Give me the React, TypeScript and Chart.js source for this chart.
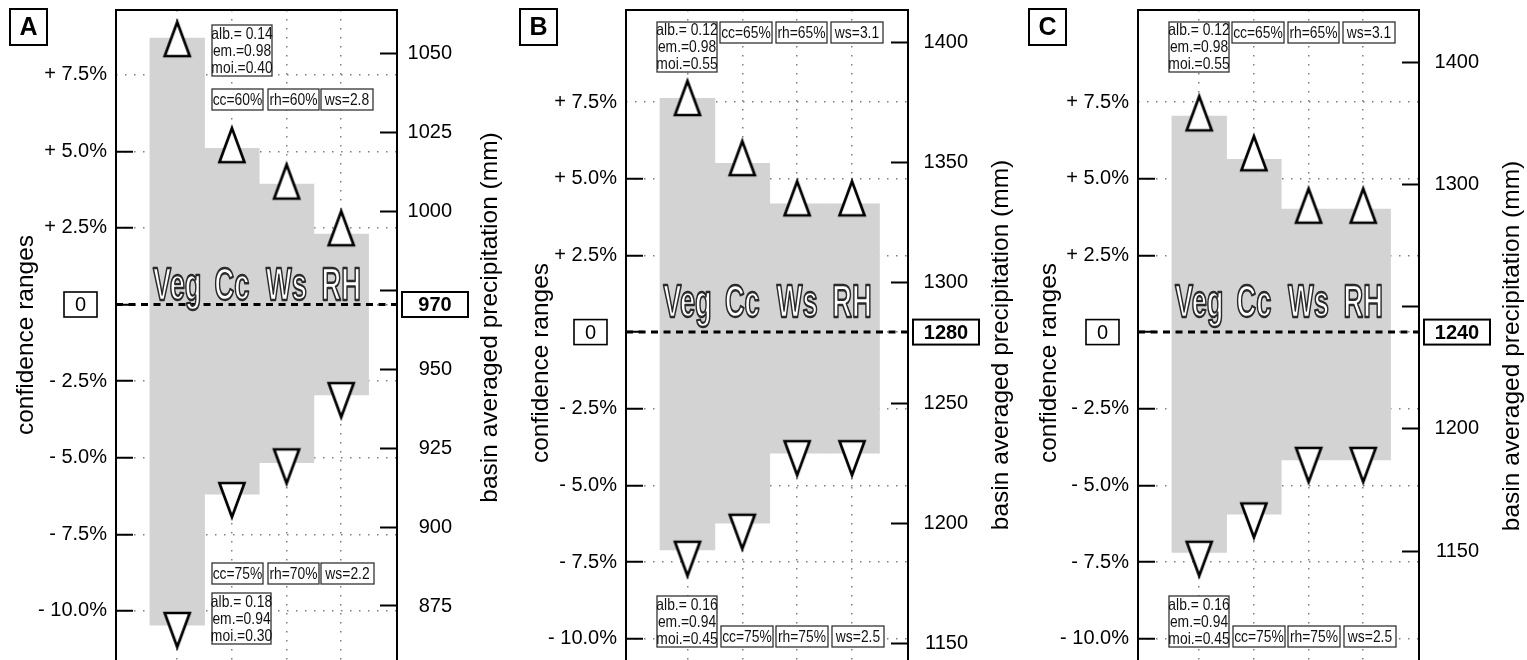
import React, { useEffect, useRef } from 'react';
import { Chart, registerables } from 'chart.js';

Chart.register(...registerables);

const FONT = '"Liberation Sans", Arial, Helvetica, sans-serif';

const categories = ['Veg', 'Cc', 'Ws', 'RH'];

const leftTickValues = [-10, -7.5, -5, -2.5, 0, 2.5, 5, 7.5];
const leftTickLabels = ['- 10.0%', '- 7.5%', '- 5.0%', '- 2.5%', '', '+ 2.5%', '+ 5.0%', '+ 7.5%'];

// ---- Panel A ----
const upperA = [8.69, 5.1, 3.93, 2.3];
const lowerA = [-10.46, -6.19, -5.16, -2.95];
const upMarkA = [8.66, 5.2, 4.01, 2.49];
const downMarkA = [-10.62, -6.38, -5.28, -3.12];
const rightTicksA = [875, 900, 925, 950, 975, 1000, 1025, 1050];
const rightLabelsA = ['875', '900', '925', '950', '', '1000', '1025', '1050'];
const baseA = '970';
const notesA = [
  ['alb.= 0.14', 'em.=0.98', 'moi.=0.40'],
  ['cc=60%'], ['rh=60%'], ['ws=2.8'],
  ['cc=75%'], ['rh=70%'], ['ws=2.2'],
  ['alb.= 0.18', 'em.=0.94', 'moi.=0.30'],
];

// ---- Panel B ----
const upperB = [7.62, 5.5, 4.18, 4.18];
const lowerB = [-7.1, -6.23, -3.95, -3.95];
const upMarkB = [7.63, 5.67, 4.36, 4.36];
const downMarkB = [-7.39, -6.51, -4.11, -4.11];
const rightTicksB = [1150, 1200, 1250, 1300, 1350, 1400];
const rightLabelsB = ['1150', '1200', '1250', '1300', '1350', '1400'];
const baseB = '1280';
const notesB = [
  ['alb.= 0.12', 'em.=0.98', 'moi.=0.55'],
  ['cc=65%'], ['rh=65%'], ['ws=3.1'],
  ['alb.= 0.16', 'em.=0.94', 'moi.=0.45'],
  ['cc=75%'], ['rh=75%'], ['ws=2.5'],
];

// ---- Panel C ----
const upperC = [7.04, 5.63, 4.01, 4.01];
const lowerC = [-7.18, -5.94, -4.17, -4.17];
const upMarkC = [7.13, 5.83, 4.12, 4.12];
const downMarkC = [-7.39, -6.14, -4.33, -4.33];
const rightTicksC = [1150, 1200, 1250, 1300, 1350];
const rightLabelsC = ['1150', '1200', '', '1300', '1400'];
const baseC = '1240';
const notesC = [
  ['alb.= 0.12', 'em.=0.98', 'moi.=0.55'],
  ['cc=65%'], ['rh=65%'], ['ws=3.1'],
  ['alb.= 0.16', 'em.=0.94', 'moi.=0.45'],
  ['cc=75%'], ['rh=75%'], ['ws=2.5'],
];

// note box layout (relative to plot frame top-left)
const notePosA = [
  { x: 96, y: 15, w: 60, h: 51 },
  { x: 96, y: 79, w: 51, h: 21 },
  { x: 152, y: 79, w: 51, h: 21 },
  { x: 205, y: 79, w: 52, h: 21 },
  { x: 96, y: 553, w: 51, h: 21 },
  { x: 152, y: 553, w: 51, h: 21 },
  { x: 205, y: 553, w: 53, h: 21 },
  { x: 96, y: 583, w: 59, h: 51 },
];
const notePosB = [
  { x: 31, y: 12, w: 60, h: 50 },
  { x: 94, y: 12, w: 52, h: 21 },
  { x: 150, y: 12, w: 51, h: 21 },
  { x: 205, y: 12, w: 52, h: 21 },
  { x: 31, y: 586, w: 60, h: 51 },
  { x: 95, y: 616, w: 52, h: 21 },
  { x: 150, y: 616, w: 52, h: 21 },
  { x: 206, y: 616, w: 52, h: 21 },
];

type Pos = { x: number; y: number; w: number; h: number };

interface PanelCfg {
  letter: string;
  left: number;
  width: number;
  leftW: number;
  rightW: number;
  padRight: number;
  yMin: number;
  yMax: number;
  rMin: number;
  rMax: number;
  upper: number[];
  lower: number[];
  upMark: number[];
  downMark: number[];
  rightTicks: number[];
  rightLabels: string[];
  base: string;
  notes: string[][];
  notePos: Pos[];
  labelLift: number;
  letterDx: number;
  leftTitleDx: number;
  leftTitleY: number;
  rightTitleY: number;
}

const panels: PanelCfg[] = [
  {
    letter: 'A', left: 0, width: 510, leftW: 116, rightW: 55, padRight: 58,
    yMin: -11.6, yMax: 9.61, rMin: 857.9, rMax: 1063.7,
    upper: upperA, lower: lowerA, upMark: upMarkA, downMark: downMarkA,
    rightTicks: rightTicksA, rightLabels: rightLabelsA, base: baseA,
    notes: notesA, notePos: notePosA, labelLift: 4.5, letterDx: -106,
    leftTitleDx: -83, leftTitleY: 335, rightTitleY: 317.5,
  },
  {
    letter: 'B', left: 510, width: 510, leftW: 116, rightW: 60, padRight: 52,
    yMin: -10.69, yMax: 10.5, rMin: 1143.05, rMax: 1413.6,
    upper: upperB, lower: lowerB, upMark: upMarkB, downMark: downMarkB,
    rightTicks: rightTicksB, rightLabels: rightLabelsB, base: baseB,
    notes: notesB, notePos: notePosB, labelLift: 15, letterDx: -106,
    leftTitleDx: -78, leftTitleY: 363, rightTitleY: 345,
  },
  {
    letter: 'C', left: 1017, width: 510, leftW: 121, rightW: 60, padRight: 48,
    yMin: -10.69, yMax: 10.5, rMin: 1105.4, rMax: 1371.4,
    upper: upperC, lower: lowerC, upMark: upMarkC, downMark: downMarkC,
    rightTicks: rightTicksC, rightLabels: rightLabelsC, base: baseC,
    notes: notesC, notePos: notePosB, labelLift: 15, letterDx: -109,
    leftTitleDx: -82, leftTitleY: 363, rightTitleY: 346,
  },
];

function makeTriangle(down: boolean): HTMLCanvasElement {
  const c = document.createElement('canvas');
  c.width = 32;
  c.height = 46;
  const g = c.getContext('2d')!;
  g.lineWidth = 2.7;
  g.lineJoin = 'miter';
  g.strokeStyle = '#000';
  g.fillStyle = '#fff';
  g.beginPath();
  if (!down) {
    g.moveTo(16, 6);
    g.lineTo(28.5, 40);
    g.lineTo(3.5, 40);
  } else {
    g.moveTo(16, 40);
    g.lineTo(28.5, 6);
    g.lineTo(3.5, 6);
  }
  g.closePath();
  g.fill();
  g.stroke();
  return c;
}

function decorPlugin(cfg: PanelCfg) {
  return {
    id: 'decor' + cfg.letter,
    afterDatasetsDraw(chart: any) {
      const { ctx, chartArea: a, scales } = chart;
      const y0 = scales.y.getPixelForValue(0);
      ctx.save();
      ctx.strokeStyle = '#000';
      ctx.lineWidth = 3;
      ctx.setLineDash([7, 5.5]);
      ctx.beginPath();
      ctx.moveTo(a.left, y0);
      ctx.lineTo(a.right, y0);
      ctx.stroke();
      ctx.setLineDash([]);
      ctx.font = `bold 47px ${FONT}`;
      ctx.textAlign = 'center';
      ctx.textBaseline = 'alphabetic';
      ctx.lineJoin = 'round';
      categories.forEach((c, i) => {
        const x = scales.x.getPixelForValue(i);
        ctx.save();
        ctx.translate(x, y0 - cfg.labelLift);
        ctx.scale(0.58, 1);
        ctx.fillStyle = '#fff';
        ctx.fillText(c, 0, 0);
        ctx.lineWidth = 2.4;
        ctx.strokeStyle = '#2a2a2a';
        ctx.strokeText(c, 0, 0);
        ctx.restore();
      });
      ctx.restore();
    },
    afterDraw(chart: any) {
      const { ctx, chartArea: a, scales } = chart;
      const y0 = scales.y.getPixelForValue(0);
      ctx.save();
      // frame (left, top, right)
      ctx.strokeStyle = '#000';
      ctx.lineWidth = 2;
      ctx.beginPath();
      ctx.moveTo(a.left, a.bottom + 2);
      ctx.lineTo(a.left, a.top);
      ctx.lineTo(a.right, a.top);
      ctx.lineTo(a.right, a.bottom + 2);
      ctx.stroke();

      // panel letter
      const lx = a.left + cfg.letterDx;
      ctx.fillStyle = '#fff';
      ctx.fillRect(lx, 9, 37, 36);
      ctx.strokeRect(lx, 9, 37, 36);
      ctx.fillStyle = '#000';
      ctx.font = `bold 25px ${FONT}`;
      ctx.textAlign = 'center';
      ctx.textBaseline = 'middle';
      ctx.fillText(cfg.letter, lx + 18.5, 28);

      // zero box left
      ctx.lineWidth = 1.6;
      ctx.fillStyle = '#fff';
      ctx.fillRect(a.left - 52, y0 - 12.5, 33, 25);
      ctx.strokeRect(a.left - 52, y0 - 12.5, 33, 25);
      ctx.fillStyle = '#000';
      ctx.font = `20px ${FONT}`;
      ctx.fillText('0', a.left - 35.5, y0 + 1);

      // base value box right
      ctx.lineWidth = 2;
      ctx.fillStyle = '#fff';
      ctx.fillRect(a.right + 5, y0 - 12.5, 66, 25);
      ctx.strokeRect(a.right + 5, y0 - 12.5, 66, 25);
      ctx.fillStyle = '#000';
      ctx.font = `bold 20px ${FONT}`;
      ctx.fillText(cfg.base, a.right + 38, y0 + 1);

      // notes
      cfg.notes.forEach((lines, i) => {
        const p = cfg.notePos[i];
        const bx = a.left + p.x;
        const by = a.top + p.y;
        ctx.fillStyle = '#fff';
        ctx.fillRect(bx, by, p.w, p.h);
        ctx.lineWidth = 1.3;
        ctx.strokeStyle = '#333';
        ctx.strokeRect(bx, by, p.w, p.h);
        ctx.fillStyle = '#111';
        ctx.font = `16.5px ${FONT}`;
        ctx.textAlign = 'center';
        ctx.textBaseline = 'middle';
        const lh = p.h / lines.length;
        lines.forEach((t, k) => {
          ctx.save();
          ctx.translate(bx + p.w / 2, by + lh * (k + 0.5) + 0.5);
          ctx.scale(0.84, 1);
          ctx.fillText(t, 0, 0);
          ctx.restore();
        });
      });

      // axis titles
      ctx.fillStyle = '#000';
      ctx.font = `24.5px ${FONT}`;
      ctx.textAlign = 'center';
      ctx.textBaseline = 'alphabetic';
      ctx.save();
      ctx.translate(a.left + cfg.leftTitleDx, cfg.leftTitleY);
      ctx.rotate(-Math.PI / 2);
      ctx.fillText('confidence ranges', 0, 0);
      ctx.restore();
      ctx.save();
      ctx.translate(a.right + 100, cfg.rightTitleY);
      ctx.rotate(-Math.PI / 2);
      ctx.fillText('basin averaged precipitation (mm)', 0, 0);
      ctx.restore();
      ctx.restore();
    },
  };
}

function Panel({ cfg }: { cfg: PanelCfg }) {
  const ref = useRef<HTMLCanvasElement | null>(null);
  useEffect(() => {
    if (!ref.current) return;
    const up = makeTriangle(false);
    const down = makeTriangle(true);
    const gridColor = '#808080';
    const chart = new Chart(ref.current, {
      type: 'bar',
      data: {
        datasets: [
          {
            type: 'bar',
            data: categories.map((_, i) => ({ x: i, y: [cfg.lower[i], cfg.upper[i]] })) as any,
            backgroundColor: '#d3d3d3',
            borderWidth: 0,
            barPercentage: 1,
            categoryPercentage: 1,
            order: 10,
            xAxisID: 'x',
            yAxisID: 'y',
          } as any,
          {
            type: 'line',
            data: categories.map((_, i) => ({ x: i, y: cfg.upMark[i] })),
            showLine: false,
            pointStyle: up,
            pointRadius: 14,
            pointHoverRadius: 14,
            order: 0,
            xAxisID: 'x',
            yAxisID: 'y',
          } as any,
          {
            type: 'line',
            data: categories.map((_, i) => ({ x: i, y: cfg.downMark[i] })),
            showLine: false,
            pointStyle: down,
            pointRadius: 14,
            pointHoverRadius: 14,
            order: 0,
            xAxisID: 'x',
            yAxisID: 'y',
          } as any,
        ],
      },
      options: {
        responsive: false,
        maintainAspectRatio: false,
        animation: false,
        events: [],
        layout: { autoPadding: false, padding: { left: 0, right: cfg.padRight, top: 10, bottom: 0 } },
        plugins: { legend: { display: false }, tooltip: { enabled: false } },
        scales: {
          x: {
            type: 'linear',
            min: -1.12,
            max: 4.02,
            offset: false,
            grid: { color: gridColor, lineWidth: 1.5, drawTicks: false, offset: false },
            border: { display: false, dash: [1.5, 7.5] },
            ticks: { display: false },
            afterBuildTicks: (s: any) => {
              s.ticks = categories.map((_, i) => ({ value: i }));
            },
            afterFit: (s: any) => {
              s.height = 0;
              s.paddingLeft = 0; s.paddingRight = 0; s.paddingTop = 0; s.paddingBottom = 0;
            },
          } as any,
          y: {
            type: 'linear',
            position: 'left',
            min: cfg.yMin,
            max: cfg.yMax,
            grid: {
              color: gridColor,
              lineWidth: 1.5,
              tickLength: -17,
              tickWidth: 2,
              tickBorderDash: [],
              tickColor: (c: any) => (c.tick && c.tick.value === 7.5 ? 'rgba(0,0,0,0)' : '#000'),
            },
            border: { display: false, dash: [1.5, 7.5] },
            ticks: {
              autoSkip: false,
              color: '#000',
              font: { family: FONT, size: 20 },
              padding: 26,
              callback: (_v: any, i: number) => leftTickLabels[i],
            },
            afterBuildTicks: (s: any) => {
              s.ticks = leftTickValues.map((v) => ({ value: v }));
            },
            afterFit: (s: any) => {
              s.width = cfg.leftW;
              s.paddingTop = 0; s.paddingBottom = 0; s.paddingLeft = 0; s.paddingRight = 0;
            },
          } as any,
          y2: {
            type: 'linear',
            position: 'right',
            min: cfg.rMin,
            max: cfg.rMax,
            grid: {
              drawOnChartArea: false,
              tickLength: -17,
              tickWidth: 2,
              tickColor: '#000',
            },
            border: { display: false },
            ticks: {
              autoSkip: false,
              crossAlign: 'far',
              color: '#000',
              font: { family: FONT, size: 20 },
              padding: 0,
              callback: (_v: any, i: number) => cfg.rightLabels[i],
            },
            afterBuildTicks: (s: any) => {
              s.ticks = cfg.rightTicks.map((v) => ({ value: v }));
            },
            afterFit: (s: any) => {
              s.width = cfg.rightW;
              s.paddingTop = 0; s.paddingBottom = 0; s.paddingLeft = 0; s.paddingRight = 0;
            },
          } as any,
        },
      },
      plugins: [decorPlugin(cfg)],
    } as any);
    return () => chart.destroy();
  }, [cfg]);

  return (
    <canvas
      ref={ref}
      width={cfg.width}
      height={660}
      style={{ position: 'absolute', left: cfg.left, top: 0, width: cfg.width, height: 660, display: 'block' }}
    />
  );
}

export default function App() {
  return (
    <div
      style={{
        position: 'absolute',
        left: 0,
        top: 0,
        width: 1527,
        height: 660,
        overflow: 'hidden',
        background: '#fff',
      }}
    >
      {panels.map((p) => (
        <Panel key={p.letter} cfg={p} />
      ))}
    </div>
  );
}
